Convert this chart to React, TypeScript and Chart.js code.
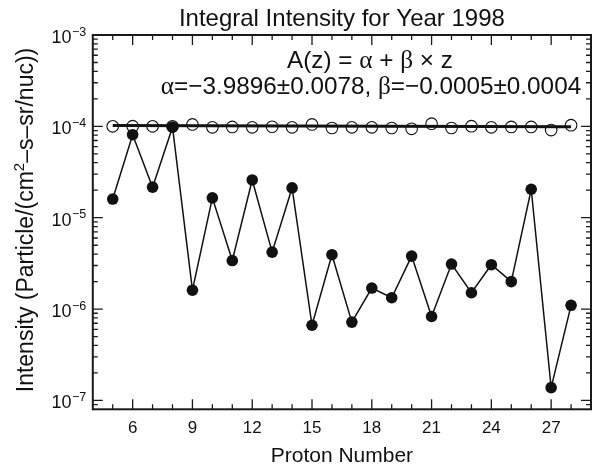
import React, { useEffect, useRef } from "react";
import { Chart, registerables } from "chart.js";

Chart.register(...registerables);

// ---- data ----
const protonNumbers = [5, 6, 7, 8, 9, 10, 11, 12, 13, 14, 15, 16, 17, 18, 19, 20, 21, 22, 23, 24, 25, 26, 27, 28];
const integralIntensity = [
  1.6e-5, 8.1e-5, 2.16e-5, 9.8e-5, 1.61e-6, 1.65e-5, 3.4e-6, 2.59e-5, 4.2e-6, 2.12e-5, 6.65e-7, 3.94e-6,
  7.2e-7, 1.7e-6, 1.33e-6, 3.8e-6, 8.3e-7, 3.11e-6, 1.51e-6, 3.06e-6, 2.0e-6, 2.05e-5, 1.38e-7, 1.1e-6,
];
const normalizedIntensity = [
  1.0e-4, 1.005e-4, 1.0e-4, 1.0e-4, 1.05e-4, 0.975e-4, 0.985e-4, 0.975e-4, 0.99e-4, 0.975e-4, 1.05e-4, 0.96e-4,
  0.975e-4, 0.975e-4, 0.96e-4, 0.94e-4, 1.07e-4, 0.96e-4, 1.005e-4, 0.975e-4, 0.985e-4, 0.985e-4, 0.91e-4, 1.03e-4,
];
const fitProtonNumbers = [5, 28];
const fitIntensity = [1.019e-4, 0.99e-4];
const xTickLabels = [6, 9, 12, 15, 18, 21, 24, 27];
const yTickExponents = [-3, -4, -5, -6, -7];

const titleText = "Integral Intensity for Year 1998";
const xTitleText = "Proton Number";
const fitLine1 = ["A(z) = ", "α", " + ", "β", " × z"];
const fitLine2 = ["α", "=−3.9896±0.0078, ", "β", "=−0.0005±0.0004"];
const yTitleParts = ["Intensity (Particle/(cm", "2", "–s–sr/nuc))"];

const X_MIN = 4;
const X_MAX = 29;
const Y_MIN = 8e-8;
const Y_MAX = 1e-3;

const SANS = '"Liberation Sans", Arial, Helvetica, sans-serif';
const SERIF = '"Liberation Serif", "Times New Roman", serif';

type Run = { text: string; font: string; dy?: number };

function drawRuns(ctx: CanvasRenderingContext2D, runs: Run[], cx: number, baseline: number) {
  let total = 0;
  const widths = runs.map((r) => {
    ctx.font = r.font;
    const w = ctx.measureText(r.text).width;
    total += w;
    return w;
  });
  let x = cx - total / 2;
  ctx.textAlign = "left";
  ctx.textBaseline = "alphabetic";
  runs.forEach((r, i) => {
    ctx.font = r.font;
    ctx.fillText(r.text, x, baseline + (r.dy || 0));
    x += widths[i];
  });
}

const decorPlugin = {
  id: "decor",
  afterDraw(chart: any) {
    const ctx: CanvasRenderingContext2D = chart.ctx;
    const { left, right, top, bottom } = chart.chartArea;
    const xs = chart.scales.x;
    const ys = chart.scales.y;
    ctx.save();
    ctx.fillStyle = "#111";
    ctx.strokeStyle = "#1a1a1a";

    // inward tick marks on all four sides
    ctx.lineWidth = 1.3;
    ctx.beginPath();
    for (let z = X_MIN + 1; z < X_MAX; z++) {
      const px = xs.getPixelForValue(z);
      const len = xTickLabels.includes(z) ? 10 : 5;
      ctx.moveTo(px, bottom);
      ctx.lineTo(px, bottom - len);
      ctx.moveTo(px, top);
      ctx.lineTo(px, top + len);
    }
    for (let e = -8; e <= -3; e++) {
      for (let m = 1; m <= 9; m++) {
        const v = m * Math.pow(10, e);
        if (v <= Y_MIN * 1.0001 || v >= Y_MAX * 0.9999) continue;
        const py = ys.getPixelForValue(v);
        const len = m === 1 ? 10 : 5;
        ctx.moveTo(left, py);
        ctx.lineTo(left + len, py);
        ctx.moveTo(right, py);
        ctx.lineTo(right - len, py);
      }
    }
    ctx.stroke();

    // frame
    ctx.lineWidth = 2;
    ctx.strokeRect(left, top, right - left, bottom - top);

    // x tick labels
    ctx.font = `17px ${SANS}`;
    ctx.textAlign = "center";
    ctx.textBaseline = "alphabetic";
    xTickLabels.forEach((v) => {
      ctx.fillText(String(v), xs.getPixelForValue(v), bottom + 23.5);
    });

    // y tick labels 10^n
    yTickExponents.forEach((e) => {
      const py = ys.getPixelForValue(Math.pow(10, e));
      const base = "10";
      const sup = "−" + String(-e);
      ctx.font = `18px ${SANS}`;
      const wb = ctx.measureText(base).width;
      ctx.font = `12.5px ${SANS}`;
      const ws = ctx.measureText(sup).width;
      const rightEdge = left - 7;
      const x0 = rightEdge - wb - ws;
      ctx.textAlign = "left";
      ctx.font = `18px ${SANS}`;
      ctx.fillText(base, x0, py + 8);
      ctx.font = `12.5px ${SANS}`;
      ctx.fillText(sup, x0 + wb + 0.5, py + 0.5);
    });

    // title
    const cx = (left + right) / 2;
    drawRuns(ctx, [{ text: titleText, font: `24px ${SANS}` }], cx, 26);

    // x axis title
    drawRuns(ctx, [{ text: xTitleText, font: `21px ${SANS}` }], cx, 462);

    // fit annotation
    const aSize = 24.3;
    const fontFor = (t: string) => (t === "α" || t === "β" ? `${aSize + 1}px ${SERIF}` : `${aSize}px ${SANS}`);
    drawRuns(ctx, fitLine1.map((t) => ({ text: t, font: fontFor(t) })), 370, 68);
    drawRuns(ctx, fitLine2.map((t) => ({ text: t, font: fontFor(t) })), 371, 94);

    // y axis title (rotated)
    ctx.save();
    ctx.translate(33, 220);
    ctx.rotate(-Math.PI / 2);
    drawRuns(
      ctx,
      [
        { text: yTitleParts[0], font: `23px ${SANS}` },
        { text: yTitleParts[1], font: `15px ${SANS}`, dy: -9.5 },
        { text: yTitleParts[2], font: `23px ${SANS}` },
      ],
      0,
      0
    );
    ctx.restore();

    ctx.restore();
  },
};

export default function App() {
  const canvasRef = useRef<HTMLCanvasElement | null>(null);

  useEffect(() => {
    document.body.style.margin = "0";
    const canvas = canvasRef.current;
    if (!canvas) return;

    const filled = protonNumbers.map((z, i) => ({ x: z, y: integralIntensity[i] }));
    const open = protonNumbers.map((z, i) => ({ x: z, y: normalizedIntensity[i] }));
    const fit = fitProtonNumbers.map((z, i) => ({ x: z, y: fitIntensity[i] }));

    const chart = new Chart(canvas, {
      type: "line",
      data: {
        datasets: [
          {
            label: "Fit",
            data: fit,
            borderColor: "#111",
            borderWidth: 3,
            pointRadius: 0,
            fill: false,
            order: 1,
          },
          {
            label: "Normalized",
            data: open,
            showLine: false,
            pointRadius: 5.8,
            pointBorderWidth: 1.1,
            pointBorderColor: "#111",
            pointBackgroundColor: "rgba(0,0,0,0)",
            order: 2,
          },
          {
            label: "Intensity",
            data: filled,
            borderColor: "#111",
            borderWidth: 1.5,
            pointRadius: 5.8,
            pointBorderWidth: 0,
            pointBackgroundColor: "#111",
            tension: 0,
            fill: false,
            order: 0,
          },
        ],
      },
      options: {
        animation: false,
        responsive: true,
        maintainAspectRatio: false,
        events: [],
        layout: { padding: { top: 35, right: 7, left: 0, bottom: 0 } },
        plugins: {
          legend: { display: false },
          tooltip: { enabled: false },
          title: { display: false },
        },
        scales: {
          x: {
            type: "linear",
            min: X_MIN,
            max: X_MAX,
            grid: { display: false, drawTicks: false },
            border: { display: false },
            ticks: { display: false },
            afterFit: (s: any) => {
              s.height = 56.7;
            },
          },
          y: {
            type: "logarithmic",
            min: Y_MIN,
            max: Y_MAX,
            grid: { display: false, drawTicks: false },
            border: { display: false },
            ticks: { display: false },
            afterFit: (s: any) => {
              s.width = 92.8;
            },
          },
        },
      },
      plugins: [decorPlugin],
    });

    return () => chart.destroy();
  }, []);

  return (
    <div style={{ position: "relative", width: 598, height: 466, background: "#fff" }}>
      <canvas ref={canvasRef} />
    </div>
  );
}
